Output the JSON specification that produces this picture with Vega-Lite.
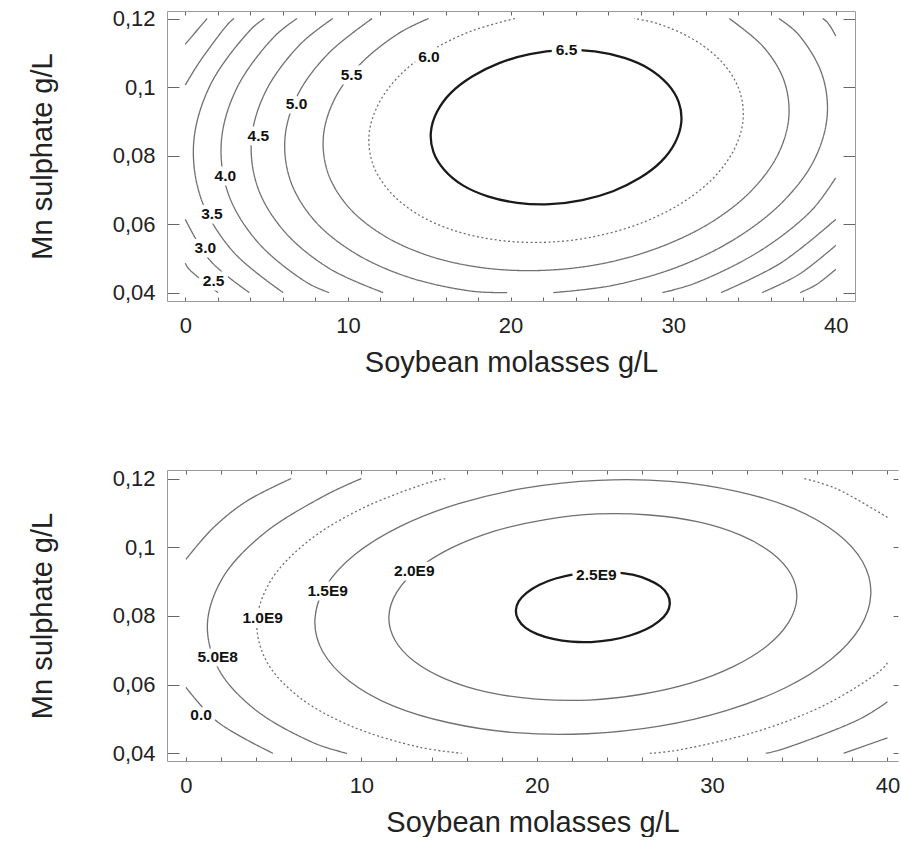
{
"$schema": "https://vega.github.io/schema/vega-lite/v6.json",
"background": "white",
"padding": {"left": 28, "top": 7, "right": 0, "bottom": 0},
"spacing": 90,
"config": {
  "view": {"stroke": null},
  "axis": {"labelFont": "Liberation Sans", "titleFont": "Liberation Sans", "labelFontSize": 22, "titleFontSize": 29, "titleFontWeight": "normal", "labelColor": "#222", "titleColor": "#222", "grid": false, "domainColor": "#9a9a9a", "tickColor": "#666", "labelFlush": false, "labelOverlap": false}
},
"datasets": {
"tr": [
{"seg":"6.5","level":"6.5","i":0,"x":30.5,"y":0.0898},{"seg":"6.5","level":"6.5","i":1,"x":30.34,"y":0.0956},{"seg":"6.5","level":"6.5","i":2,"x":29.67,"y":0.1008},{"seg":"6.5","level":"6.5","i":3,"x":28.53,"y":0.1053},{"seg":"6.5","level":"6.5","i":4,"x":27.0,"y":0.1085},{"seg":"6.5","level":"6.5","i":5,"x":25.18,"y":0.1104},{"seg":"6.5","level":"6.5","i":6,"x":23.2,"y":0.1108},{"seg":"6.5","level":"6.5","i":7,"x":21.19,"y":0.1096},{"seg":"6.5","level":"6.5","i":8,"x":19.3,"y":0.107},{"seg":"6.5","level":"6.5","i":9,"x":17.64,"y":0.1031},{"seg":"6.5","level":"6.5","i":10,"x":16.33,"y":0.0983},{"seg":"6.5","level":"6.5","i":11,"x":15.47,"y":0.0927},{"seg":"6.5","level":"6.5","i":12,"x":15.1,"y":0.0868},{"seg":"6.5","level":"6.5","i":13,"x":15.26,"y":0.081},{"seg":"6.5","level":"6.5","i":14,"x":15.93,"y":0.0758},{"seg":"6.5","level":"6.5","i":15,"x":17.07,"y":0.0713},{"seg":"6.5","level":"6.5","i":16,"x":18.6,"y":0.0681},{"seg":"6.5","level":"6.5","i":17,"x":20.42,"y":0.0662},{"seg":"6.5","level":"6.5","i":18,"x":22.4,"y":0.0658},{"seg":"6.5","level":"6.5","i":19,"x":24.41,"y":0.067},{"seg":"6.5","level":"6.5","i":20,"x":26.3,"y":0.0696},{"seg":"6.5","level":"6.5","i":21,"x":27.96,"y":0.0735},{"seg":"6.5","level":"6.5","i":22,"x":29.27,"y":0.0783},{"seg":"6.5","level":"6.5","i":23,"x":30.13,"y":0.0839}
],
"ta": [
{"seg":"6.0","level":"6.0","i":0,"x":20.26,"y":0.12},{"seg":"6.0","level":"6.0","i":1,"x":17.57,"y":0.1163},{"seg":"6.0","level":"6.0","i":2,"x":15.09,"y":0.1105},{"seg":"6.0","level":"6.0","i":3,"x":13.14,"y":0.1032},{"seg":"6.0","level":"6.0","i":4,"x":11.85,"y":0.0948},{"seg":"6.0","level":"6.0","i":5,"x":11.3,"y":0.0861},{"seg":"6.0","level":"6.0","i":6,"x":11.54,"y":0.0774},{"seg":"6.0","level":"6.0","i":7,"x":12.55,"y":0.0696},{"seg":"6.0","level":"6.0","i":8,"x":14.25,"y":0.063},{"seg":"6.0","level":"6.0","i":9,"x":16.54,"y":0.0581},{"seg":"6.0","level":"6.0","i":10,"x":19.25,"y":0.0553},{"seg":"6.0","level":"6.0","i":11,"x":22.2,"y":0.0547},{"seg":"6.0","level":"6.0","i":12,"x":25.2,"y":0.0564},{"seg":"6.0","level":"6.0","i":13,"x":28.03,"y":0.0603},{"seg":"6.0","level":"6.0","i":14,"x":30.51,"y":0.0661},{"seg":"6.0","level":"6.0","i":15,"x":32.46,"y":0.0734},{"seg":"6.0","level":"6.0","i":16,"x":33.75,"y":0.0818},{"seg":"6.0","level":"6.0","i":17,"x":34.3,"y":0.0905},{"seg":"6.0","level":"6.0","i":18,"x":34.06,"y":0.0992},{"seg":"6.0","level":"6.0","i":19,"x":33.05,"y":0.107},{"seg":"6.0","level":"6.0","i":20,"x":31.35,"y":0.1136},{"seg":"6.0","level":"6.0","i":21,"x":29.07,"y":0.1185},{"seg":"6.0","level":"6.0","i":22,"x":27.61,"y":0.12},
{"seg":"5.5","level":"5.5","i":0,"x":14.96,"y":0.12},{"seg":"5.5","level":"5.5","i":1,"x":13.2,"y":0.1159},{"seg":"5.5","level":"5.5","i":2,"x":10.78,"y":0.1068},{"seg":"5.5","level":"5.5","i":3,"x":9.17,"y":0.0964},{"seg":"5.5","level":"5.5","i":4,"x":8.49,"y":0.0855},{"seg":"5.5","level":"5.5","i":5,"x":8.78,"y":0.0748},{"seg":"5.5","level":"5.5","i":6,"x":10.03,"y":0.065},{"seg":"5.5","level":"5.5","i":7,"x":12.15,"y":0.0568},{"seg":"5.5","level":"5.5","i":8,"x":15.0,"y":0.0507},{"seg":"5.5","level":"5.5","i":9,"x":18.38,"y":0.0472},{"seg":"5.5","level":"5.5","i":10,"x":22.06,"y":0.0465},{"seg":"5.5","level":"5.5","i":11,"x":25.79,"y":0.0486},{"seg":"5.5","level":"5.5","i":12,"x":29.31,"y":0.0535},{"seg":"5.5","level":"5.5","i":13,"x":32.4,"y":0.0607},{"seg":"5.5","level":"5.5","i":14,"x":34.82,"y":0.0698},{"seg":"5.5","level":"5.5","i":15,"x":36.43,"y":0.0802},{"seg":"5.5","level":"5.5","i":16,"x":37.11,"y":0.0911},{"seg":"5.5","level":"5.5","i":17,"x":36.82,"y":0.1018},{"seg":"5.5","level":"5.5","i":18,"x":35.57,"y":0.1116},{"seg":"5.5","level":"5.5","i":19,"x":33.45,"y":0.12},
{"seg":"5.0a","level":"5.0","i":0,"x":22.63,"y":0.04},{"seg":"5.0a","level":"5.0","i":1,"x":26.28,"y":0.0421},{"seg":"5.0a","level":"5.0","i":2,"x":30.39,"y":0.0477},{"seg":"5.0a","level":"5.0","i":3,"x":33.98,"y":0.0562},{"seg":"5.0a","level":"5.0","i":4,"x":36.8,"y":0.0668},{"seg":"5.0a","level":"5.0","i":5,"x":38.68,"y":0.0788},{"seg":"5.0a","level":"5.0","i":6,"x":39.47,"y":0.0916},{"seg":"5.0a","level":"5.0","i":7,"x":39.13,"y":0.104},{"seg":"5.0a","level":"5.0","i":8,"x":37.67,"y":0.1155},{"seg":"5.0a","level":"5.0","i":9,"x":36.5,"y":0.12},
{"seg":"5.0b","level":"5.0","i":0,"x":11.49,"y":0.12},{"seg":"5.0b","level":"5.0","i":1,"x":8.8,"y":0.1098},{"seg":"5.0b","level":"5.0","i":2,"x":6.92,"y":0.0978},{"seg":"5.0b","level":"5.0","i":3,"x":6.13,"y":0.0851},{"seg":"5.0b","level":"5.0","i":4,"x":6.47,"y":0.0726},{"seg":"5.0b","level":"5.0","i":5,"x":7.93,"y":0.0611},{"seg":"5.0b","level":"5.0","i":6,"x":10.4,"y":0.0516},{"seg":"5.0b","level":"5.0","i":7,"x":13.72,"y":0.0445},{"seg":"5.0b","level":"5.0","i":8,"x":17.65,"y":0.0404},{"seg":"5.0b","level":"5.0","i":9,"x":19.79,"y":0.04},
{"seg":"4.5a","level":"4.5","i":0,"x":40,"y":0.1149},{"seg":"4.5a","level":"4.5","i":1,"x":39.5,"y":0.1188},{"seg":"4.5a","level":"4.5","i":2,"x":39.19,"y":0.12},
{"seg":"4.5b","level":"4.5","i":0,"x":9.07,"y":0.12},{"seg":"4.5b","level":"4.5","i":1,"x":7.07,"y":0.1125},{"seg":"4.5b","level":"4.5","i":2,"x":4.96,"y":0.0989},{"seg":"4.5b","level":"4.5","i":3,"x":4.07,"y":0.0847},{"seg":"4.5b","level":"4.5","i":4,"x":4.46,"y":0.0706},{"seg":"4.5b","level":"4.5","i":5,"x":6.1,"y":0.0578},{"seg":"4.5b","level":"4.5","i":6,"x":8.87,"y":0.047},{"seg":"4.5b","level":"4.5","i":7,"x":12.17,"y":0.04},
{"seg":"4.5c","level":"4.5","i":0,"x":29.34,"y":0.04},{"seg":"4.5c","level":"4.5","i":1,"x":31.32,"y":0.0427},{"seg":"4.5c","level":"4.5","i":2,"x":35.35,"y":0.0522},{"seg":"4.5c","level":"4.5","i":3,"x":38.53,"y":0.0641},{"seg":"4.5c","level":"4.5","i":4,"x":40,"y":0.0736},
{"seg":"4.0a","level":"4.0","i":0,"x":6.87,"y":0.12},{"seg":"4.0a","level":"4.0","i":1,"x":5.51,"y":0.1149},{"seg":"4.0a","level":"4.0","i":2,"x":3.2,"y":0.1},{"seg":"4.0a","level":"4.0","i":3,"x":2.22,"y":0.0843},{"seg":"4.0a","level":"4.0","i":4,"x":2.64,"y":0.0689},{"seg":"4.0a","level":"4.0","i":5,"x":4.44,"y":0.0548},{"seg":"4.0a","level":"4.0","i":6,"x":7.49,"y":0.0429},{"seg":"4.0a","level":"4.0","i":7,"x":8.85,"y":0.04},
{"seg":"4.0b","level":"4.0","i":0,"x":32.94,"y":0.04},{"seg":"4.0b","level":"4.0","i":1,"x":36.6,"y":0.0486},{"seg":"4.0b","level":"4.0","i":2,"x":40,"y":0.0614},
{"seg":"3.5a","level":"3.5","i":0,"x":4.86,"y":0.12},{"seg":"3.5a","level":"3.5","i":1,"x":4.09,"y":0.1171},{"seg":"3.5a","level":"3.5","i":2,"x":1.58,"y":0.101},{"seg":"3.5a","level":"3.5","i":3,"x":0.52,"y":0.084},{"seg":"3.5a","level":"3.5","i":4,"x":0.98,"y":0.0673},{"seg":"3.5a","level":"3.5","i":5,"x":2.93,"y":0.052},{"seg":"3.5a","level":"3.5","i":6,"x":6.02,"y":0.04},
{"seg":"3.5b","level":"3.5","i":0,"x":35.46,"y":0.04},{"seg":"3.5b","level":"3.5","i":1,"x":37.73,"y":0.0453},{"seg":"3.5b","level":"3.5","i":2,"x":40,"y":0.0538},
{"seg":"3.0a","level":"3.0","i":0,"x":3.0,"y":0.12},{"seg":"3.0a","level":"3.0","i":1,"x":2.7,"y":0.1188},{"seg":"3.0a","level":"3.0","i":2,"x":0.9,"y":0.1075},{"seg":"3.0a","level":"3.0","i":3,"x":0,"y":0.1006},
{"seg":"3.0b","level":"3.0","i":0,"x":0,"y":0.0614},{"seg":"3.0b","level":"3.0","i":1,"x":1.52,"y":0.0494},{"seg":"3.0b","level":"3.0","i":2,"x":3.94,"y":0.04},
{"seg":"3.0c","level":"3.0","i":0,"x":37.8,"y":0.04},{"seg":"3.0c","level":"3.0","i":1,"x":38.79,"y":0.0423},{"seg":"3.0c","level":"3.0","i":2,"x":40,"y":0.0468},
{"seg":"2.5a","level":"2.5","i":0,"x":1.34,"y":0.12},{"seg":"2.5a","level":"2.5","i":1,"x":0,"y":0.1125},
{"seg":"2.5b","level":"2.5","i":0,"x":0,"y":0.0486},{"seg":"2.5b","level":"2.5","i":1,"x":0.2,"y":0.047},{"seg":"2.5b","level":"2.5","i":2,"x":2.01,"y":0.04}
],
"tlab": [
{"label":"6.5","x":23.44,"y":0.1108},{"label":"6.0","x":14.98,"y":0.1089},{"label":"5.5","x":10.22,"y":0.1034},{"label":"5.0","x":6.84,"y":0.0951},{"label":"4.5","x":4.49,"y":0.0858},{"label":"4.0","x":2.46,"y":0.074},{"label":"3.5","x":1.64,"y":0.0629},{"label":"3.0","x":1.23,"y":0.0531},{"label":"2.5","x":1.74,"y":0.0434}
],
"br": [
{"seg":"2.5E9","level":"2.5E9","i":0,"x":27.59,"y":0.0836},{"seg":"2.5E9","level":"2.5E9","i":1,"x":27.46,"y":0.0862},{"seg":"2.5E9","level":"2.5E9","i":2,"x":27.05,"y":0.0886},{"seg":"2.5E9","level":"2.5E9","i":3,"x":26.37,"y":0.0905},{"seg":"2.5E9","level":"2.5E9","i":4,"x":25.47,"y":0.092},{"seg":"2.5E9","level":"2.5E9","i":5,"x":24.42,"y":0.0927},{"seg":"2.5E9","level":"2.5E9","i":6,"x":23.29,"y":0.0928},{"seg":"2.5E9","level":"2.5E9","i":7,"x":22.15,"y":0.0922},{"seg":"2.5E9","level":"2.5E9","i":8,"x":21.08,"y":0.0909},{"seg":"2.5E9","level":"2.5E9","i":9,"x":20.16,"y":0.0891},{"seg":"2.5E9","level":"2.5E9","i":10,"x":19.44,"y":0.0868},{"seg":"2.5E9","level":"2.5E9","i":11,"x":18.98,"y":0.0843},{"seg":"2.5E9","level":"2.5E9","i":12,"x":18.81,"y":0.0816},{"seg":"2.5E9","level":"2.5E9","i":13,"x":18.94,"y":0.079},{"seg":"2.5E9","level":"2.5E9","i":14,"x":19.35,"y":0.0766},{"seg":"2.5E9","level":"2.5E9","i":15,"x":20.03,"y":0.0747},{"seg":"2.5E9","level":"2.5E9","i":16,"x":20.93,"y":0.0733},{"seg":"2.5E9","level":"2.5E9","i":17,"x":21.98,"y":0.0725},{"seg":"2.5E9","level":"2.5E9","i":18,"x":23.11,"y":0.0724},{"seg":"2.5E9","level":"2.5E9","i":19,"x":24.25,"y":0.073},{"seg":"2.5E9","level":"2.5E9","i":20,"x":25.32,"y":0.0743},{"seg":"2.5E9","level":"2.5E9","i":21,"x":26.24,"y":0.0761},{"seg":"2.5E9","level":"2.5E9","i":22,"x":26.96,"y":0.0784},{"seg":"2.5E9","level":"2.5E9","i":23,"x":27.42,"y":0.0809},
{"seg":"2.0E9","level":"2.0E9","i":0,"x":34.83,"y":0.0853},{"seg":"2.0E9","level":"2.0E9","i":1,"x":34.49,"y":0.0922},{"seg":"2.0E9","level":"2.0E9","i":2,"x":33.39,"y":0.0984},{"seg":"2.0E9","level":"2.0E9","i":3,"x":31.59,"y":0.1036},{"seg":"2.0E9","level":"2.0E9","i":4,"x":29.22,"y":0.1074},{"seg":"2.0E9","level":"2.0E9","i":5,"x":26.43,"y":0.1094},{"seg":"2.0E9","level":"2.0E9","i":6,"x":23.43,"y":0.1097},{"seg":"2.0E9","level":"2.0E9","i":7,"x":20.42,"y":0.108},{"seg":"2.0E9","level":"2.0E9","i":8,"x":17.59,"y":0.1047},{"seg":"2.0E9","level":"2.0E9","i":9,"x":15.14,"y":0.0998},{"seg":"2.0E9","level":"2.0E9","i":10,"x":13.25,"y":0.0938},{"seg":"2.0E9","level":"2.0E9","i":11,"x":12.03,"y":0.087},{"seg":"2.0E9","level":"2.0E9","i":12,"x":11.57,"y":0.0799},{"seg":"2.0E9","level":"2.0E9","i":13,"x":11.91,"y":0.073},{"seg":"2.0E9","level":"2.0E9","i":14,"x":13.01,"y":0.0668},{"seg":"2.0E9","level":"2.0E9","i":15,"x":14.81,"y":0.0616},{"seg":"2.0E9","level":"2.0E9","i":16,"x":17.18,"y":0.0578},{"seg":"2.0E9","level":"2.0E9","i":17,"x":19.97,"y":0.0558},{"seg":"2.0E9","level":"2.0E9","i":18,"x":22.97,"y":0.0555},{"seg":"2.0E9","level":"2.0E9","i":19,"x":25.99,"y":0.0572},{"seg":"2.0E9","level":"2.0E9","i":20,"x":28.81,"y":0.0605},{"seg":"2.0E9","level":"2.0E9","i":21,"x":31.26,"y":0.0654},{"seg":"2.0E9","level":"2.0E9","i":22,"x":33.16,"y":0.0714},{"seg":"2.0E9","level":"2.0E9","i":23,"x":34.37,"y":0.0782},
{"seg":"1.5E9","level":"1.5E9","i":0,"x":39.05,"y":0.0863},{"seg":"1.5E9","level":"1.5E9","i":1,"x":38.59,"y":0.0957},{"seg":"1.5E9","level":"1.5E9","i":2,"x":37.08,"y":0.1042},{"seg":"1.5E9","level":"1.5E9","i":3,"x":34.63,"y":0.1113},{"seg":"1.5E9","level":"1.5E9","i":4,"x":31.4,"y":0.1163},{"seg":"1.5E9","level":"1.5E9","i":5,"x":27.61,"y":0.1192},{"seg":"1.5E9","level":"1.5E9","i":6,"x":23.52,"y":0.1195},{"seg":"1.5E9","level":"1.5E9","i":7,"x":19.4,"y":0.1173},{"seg":"1.5E9","level":"1.5E9","i":8,"x":15.55,"y":0.1127},{"seg":"1.5E9","level":"1.5E9","i":9,"x":12.22,"y":0.1061},{"seg":"1.5E9","level":"1.5E9","i":10,"x":9.63,"y":0.0979},{"seg":"1.5E9","level":"1.5E9","i":11,"x":7.97,"y":0.0886},{"seg":"1.5E9","level":"1.5E9","i":12,"x":7.35,"y":0.0789},{"seg":"1.5E9","level":"1.5E9","i":13,"x":7.81,"y":0.0695},{"seg":"1.5E9","level":"1.5E9","i":14,"x":9.32,"y":0.061},{"seg":"1.5E9","level":"1.5E9","i":15,"x":11.77,"y":0.0539},{"seg":"1.5E9","level":"1.5E9","i":16,"x":15.0,"y":0.0489},{"seg":"1.5E9","level":"1.5E9","i":17,"x":18.79,"y":0.046},{"seg":"1.5E9","level":"1.5E9","i":18,"x":22.88,"y":0.0457},{"seg":"1.5E9","level":"1.5E9","i":19,"x":27.0,"y":0.0479},{"seg":"1.5E9","level":"1.5E9","i":20,"x":30.85,"y":0.0525},{"seg":"1.5E9","level":"1.5E9","i":21,"x":34.18,"y":0.0591},{"seg":"1.5E9","level":"1.5E9","i":22,"x":36.77,"y":0.0673},{"seg":"1.5E9","level":"1.5E9","i":23,"x":38.43,"y":0.0766}
],
"ba": [
{"seg":"1.0E9a","level":"1.0E9","i":0,"x":14.79,"y":0.12},{"seg":"1.0E9a","level":"1.0E9","i":1,"x":13.95,"y":0.119},{"seg":"1.0E9a","level":"1.0E9","i":2,"x":9.92,"y":0.111},{"seg":"1.0E9a","level":"1.0E9","i":3,"x":6.8,"y":0.1011},{"seg":"1.0E9a","level":"1.0E9","i":4,"x":4.79,"y":0.0899},{"seg":"1.0E9a","level":"1.0E9","i":5,"x":4.04,"y":0.0782},{"seg":"1.0E9a","level":"1.0E9","i":6,"x":4.59,"y":0.0668},{"seg":"1.0E9a","level":"1.0E9","i":7,"x":6.42,"y":0.0565},{"seg":"1.0E9a","level":"1.0E9","i":8,"x":9.38,"y":0.048},{"seg":"1.0E9a","level":"1.0E9","i":9,"x":13.29,"y":0.0418},{"seg":"1.0E9a","level":"1.0E9","i":10,"x":15.72,"y":0.04},
{"seg":"1.0E9b","level":"1.0E9","i":0,"x":26.45,"y":0.04},{"seg":"1.0E9b","level":"1.0E9","i":1,"x":27.79,"y":0.0407},{"seg":"1.0E9b","level":"1.0E9","i":2,"x":32.45,"y":0.0462},{"seg":"1.0E9b","level":"1.0E9","i":3,"x":36.48,"y":0.0542},{"seg":"1.0E9b","level":"1.0E9","i":4,"x":39.6,"y":0.0641},{"seg":"1.0E9b","level":"1.0E9","i":5,"x":40,"y":0.0663},
{"seg":"1.0E9c","level":"1.0E9","i":0,"x":40,"y":0.1087},{"seg":"1.0E9c","level":"1.0E9","i":1,"x":37.02,"y":0.1172},{"seg":"1.0E9c","level":"1.0E9","i":2,"x":35.26,"y":0.12},
{"seg":"5.0E8a","level":"5.0E8","i":0,"x":10.0,"y":0.12},{"seg":"5.0E8a","level":"5.0E8","i":1,"x":7.97,"y":0.1152},{"seg":"5.0E8a","level":"5.0E8","i":2,"x":4.39,"y":0.1038},{"seg":"5.0E8a","level":"5.0E8","i":3,"x":2.08,"y":0.091},{"seg":"5.0E8a","level":"5.0E8","i":4,"x":1.22,"y":0.0775},{"seg":"5.0E8a","level":"5.0E8","i":5,"x":1.86,"y":0.0645},{"seg":"5.0E8a","level":"5.0E8","i":6,"x":3.95,"y":0.0527},{"seg":"5.0E8a","level":"5.0E8","i":7,"x":7.35,"y":0.0429},{"seg":"5.0E8a","level":"5.0E8","i":8,"x":9.18,"y":0.04},
{"seg":"5.0E8b","level":"5.0E8","i":0,"x":33.06,"y":0.04},{"seg":"5.0E8b","level":"5.0E8","i":1,"x":33.81,"y":0.0409},{"seg":"5.0E8b","level":"5.0E8","i":2,"x":38.43,"y":0.05},{"seg":"5.0E8b","level":"5.0E8","i":3,"x":40,"y":0.055},
{"seg":"0.0a","level":"0.0","i":0,"x":0,"y":0.0965},{"seg":"0.0a","level":"0.0","i":1,"x":1.52,"y":0.1055},{"seg":"0.0a","level":"0.0","i":2,"x":3.42,"y":0.1133},{"seg":"0.0a","level":"0.0","i":3,"x":5.99,"y":0.12},
{"seg":"0.0b","level":"0.0","i":0,"x":0,"y":0.0592},{"seg":"0.0b","level":"0.0","i":1,"x":1.76,"y":0.0493},{"seg":"0.0b","level":"0.0","i":2,"x":4.96,"y":0.04},
{"seg":"0.0c","level":"0.0","i":0,"x":37.5,"y":0.04},{"seg":"0.0c","level":"0.0","i":1,"x":40,"y":0.0445}
],
"blab": [
{"label":"2.5E9","x":23.4,"y":0.0918},{"label":"2.0E9","x":13.02,"y":0.0931},{"label":"1.5E9","x":8.08,"y":0.0873},{"label":"1.0E9","x":4.37,"y":0.0795},{"label":"5.0E8","x":1.81,"y":0.068},{"label":"0.0","x":0.86,"y":0.0512}
]
},
"vconcat": [
{
  "width": 688, "height": 290,
  "resolve": {"axis": {"x": "independent", "y": "independent"}},
  "layer": [
    {
      "data": {"name": "ta"},
      "mark": {"type": "line", "interpolate": "catmull-rom", "clip": true},
      "encoding": {
        "x": {"field": "x", "type": "quantitative", "scale": {"domain": [-1.125, 41.18], "nice": false, "zero": false},
              "axis": {"orient": "bottom", "values": [0,2,4,6,8,10,12,14,16,18,20,22,24,26,28,30,32,34,36,38,40], "tickSize": -4, "labelExpr": "datum.value % 10 === 0 ? format(datum.value, 'd') : ''", "labelPadding": 18, "title": "Soybean molasses g/L", "titlePadding": 12}},
        "y": {"field": "y", "type": "quantitative", "scale": {"domain": [0.03755, 0.1222], "nice": false, "zero": false},
              "axis": {"orient": "left", "values": [0.04, 0.06, 0.08, 0.1, 0.12], "tickSize": -12, "labelExpr": "replace(format(datum.value, '.2~f'), '.', ',')", "labelPadding": 24, "title": "Mn sulphate g/L", "titlePadding": 55}},
        "detail": {"field": "seg"},
        "order": {"field": "i", "type": "quantitative"},
        "color": {"value": "#707070"},
        "strokeWidth": {"value": 1.3},
        "strokeDash": {"condition": {"test": "datum.level === '6.0'", "value": [2, 2.5]}, "value": [1, 0]}
      }
    },
    {
      "data": {"name": "tr"},
      "mark": {"type": "line", "interpolate": "cardinal-closed", "clip": true},
      "encoding": {
        "x": {"field": "x", "type": "quantitative", "scale": {"domain": [-1.125, 41.18], "nice": false, "zero": false}, "axis": null},
        "y": {"field": "y", "type": "quantitative", "scale": {"domain": [0.03755, 0.1222], "nice": false, "zero": false}, "axis": null},
        "detail": {"field": "seg"},
        "order": {"field": "i", "type": "quantitative"},
        "color": {"value": "#1a1a1a"},
        "strokeWidth": {"value": 2.3}
      }
    },
    {
      "data": {"name": "tlab"},
      "mark": {"type": "text", "font": "Liberation Sans", "fontWeight": "bold", "fontSize": 15.5, "stroke": "white", "strokeWidth": 9, "strokeJoin": "round", "color": "white"},
      "encoding": {
        "x": {"field": "x", "type": "quantitative", "scale": {"domain": [-1.125, 41.18], "nice": false, "zero": false},
              "axis": {"orient": "top", "values": [0,2,4,6,8,10,12,14,16,18,20,22,24,26,28,30,32,34,36,38,40], "tickSize": -4, "labels": false, "title": null}},
        "y": {"field": "y", "type": "quantitative", "scale": {"domain": [0.03755, 0.1222], "nice": false, "zero": false},
              "axis": {"orient": "right", "values": [0.04, 0.06, 0.08, 0.1, 0.12], "tickSize": -12, "labels": false, "title": null}},
        "text": {"field": "label"}
      }
    },
    {
      "data": {"name": "tlab"},
      "mark": {"type": "text", "font": "Liberation Sans", "fontWeight": "bold", "fontSize": 15.5, "color": "#111"},
      "encoding": {
        "x": {"field": "x", "type": "quantitative", "scale": {"domain": [-1.125, 41.18], "nice": false, "zero": false}, "axis": null},
        "y": {"field": "y", "type": "quantitative", "scale": {"domain": [0.03755, 0.1222], "nice": false, "zero": false}, "axis": null},
        "text": {"field": "label"}
      }
    }
  ]
},
{
  "width": 731, "height": 291,
  "resolve": {"axis": {"x": "independent", "y": "independent"}},
  "layer": [
    {
      "data": {"name": "ba"},
      "mark": {"type": "line", "interpolate": "catmull-rom", "clip": true},
      "encoding": {
        "x": {"field": "x", "type": "quantitative", "scale": {"domain": [-1.083, 40.6], "nice": false, "zero": false},
              "axis": {"orient": "bottom", "values": [0,2,4,6,8,10,12,14,16,18,20,22,24,26,28,30,32,34,36,38,40], "tickSize": -4, "labelExpr": "datum.value % 10 === 0 ? format(datum.value, 'd') : ''", "labelPadding": 18, "title": "Soybean molasses g/L", "titlePadding": 12}},
        "y": {"field": "y", "type": "quantitative", "scale": {"domain": [0.03776, 0.1225], "nice": false, "zero": false},
              "axis": {"orient": "left", "values": [0.04, 0.06, 0.08, 0.1, 0.12], "tickSize": -12, "labelExpr": "replace(format(datum.value, '.2~f'), '.', ',')", "labelPadding": 24, "title": "Mn sulphate g/L", "titlePadding": 55}},
        "detail": {"field": "seg"},
        "order": {"field": "i", "type": "quantitative"},
        "color": {"value": "#707070"},
        "strokeWidth": {"value": 1.3},
        "strokeDash": {"condition": {"test": "datum.level === '1.0E9'", "value": [2, 2.5]}, "value": [1, 0]}
      }
    },
    {
      "data": {"name": "br"},
      "mark": {"type": "line", "interpolate": "cardinal-closed", "clip": true},
      "encoding": {
        "x": {"field": "x", "type": "quantitative", "scale": {"domain": [-1.083, 40.6], "nice": false, "zero": false}, "axis": null},
        "y": {"field": "y", "type": "quantitative", "scale": {"domain": [0.03776, 0.1225], "nice": false, "zero": false}, "axis": null},
        "detail": {"field": "seg"},
        "order": {"field": "i", "type": "quantitative"},
        "color": {"condition": {"test": "datum.level === '2.5E9'", "value": "#1a1a1a"}, "value": "#707070"},
        "strokeWidth": {"condition": {"test": "datum.level === '2.5E9'", "value": 2.3}, "value": 1.3}
      }
    },
    {
      "data": {"name": "blab"},
      "mark": {"type": "text", "font": "Liberation Sans", "fontWeight": "bold", "fontSize": 15.5, "stroke": "white", "strokeWidth": 9, "strokeJoin": "round", "color": "white"},
      "encoding": {
        "x": {"field": "x", "type": "quantitative", "scale": {"domain": [-1.083, 40.6], "nice": false, "zero": false},
              "axis": {"orient": "top", "values": [0,2,4,6,8,10,12,14,16,18,20,22,24,26,28,30,32,34,36,38,40], "tickSize": -4, "labels": false, "title": null}},
        "y": {"field": "y", "type": "quantitative", "scale": {"domain": [0.03776, 0.1225], "nice": false, "zero": false},
              "axis": {"orient": "right", "values": [0.04, 0.06, 0.08, 0.1, 0.12], "tickSize": -5, "labels": false, "title": null, "domain": false}},
        "text": {"field": "label"}
      }
    },
    {
      "data": {"name": "blab"},
      "mark": {"type": "text", "font": "Liberation Sans", "fontWeight": "bold", "fontSize": 15.5, "color": "#111"},
      "encoding": {
        "x": {"field": "x", "type": "quantitative", "scale": {"domain": [-1.083, 40.6], "nice": false, "zero": false}, "axis": null},
        "y": {"field": "y", "type": "quantitative", "scale": {"domain": [0.03776, 0.1225], "nice": false, "zero": false}, "axis": null},
        "text": {"field": "label"}
      }
    }
  ]
}
]
}
